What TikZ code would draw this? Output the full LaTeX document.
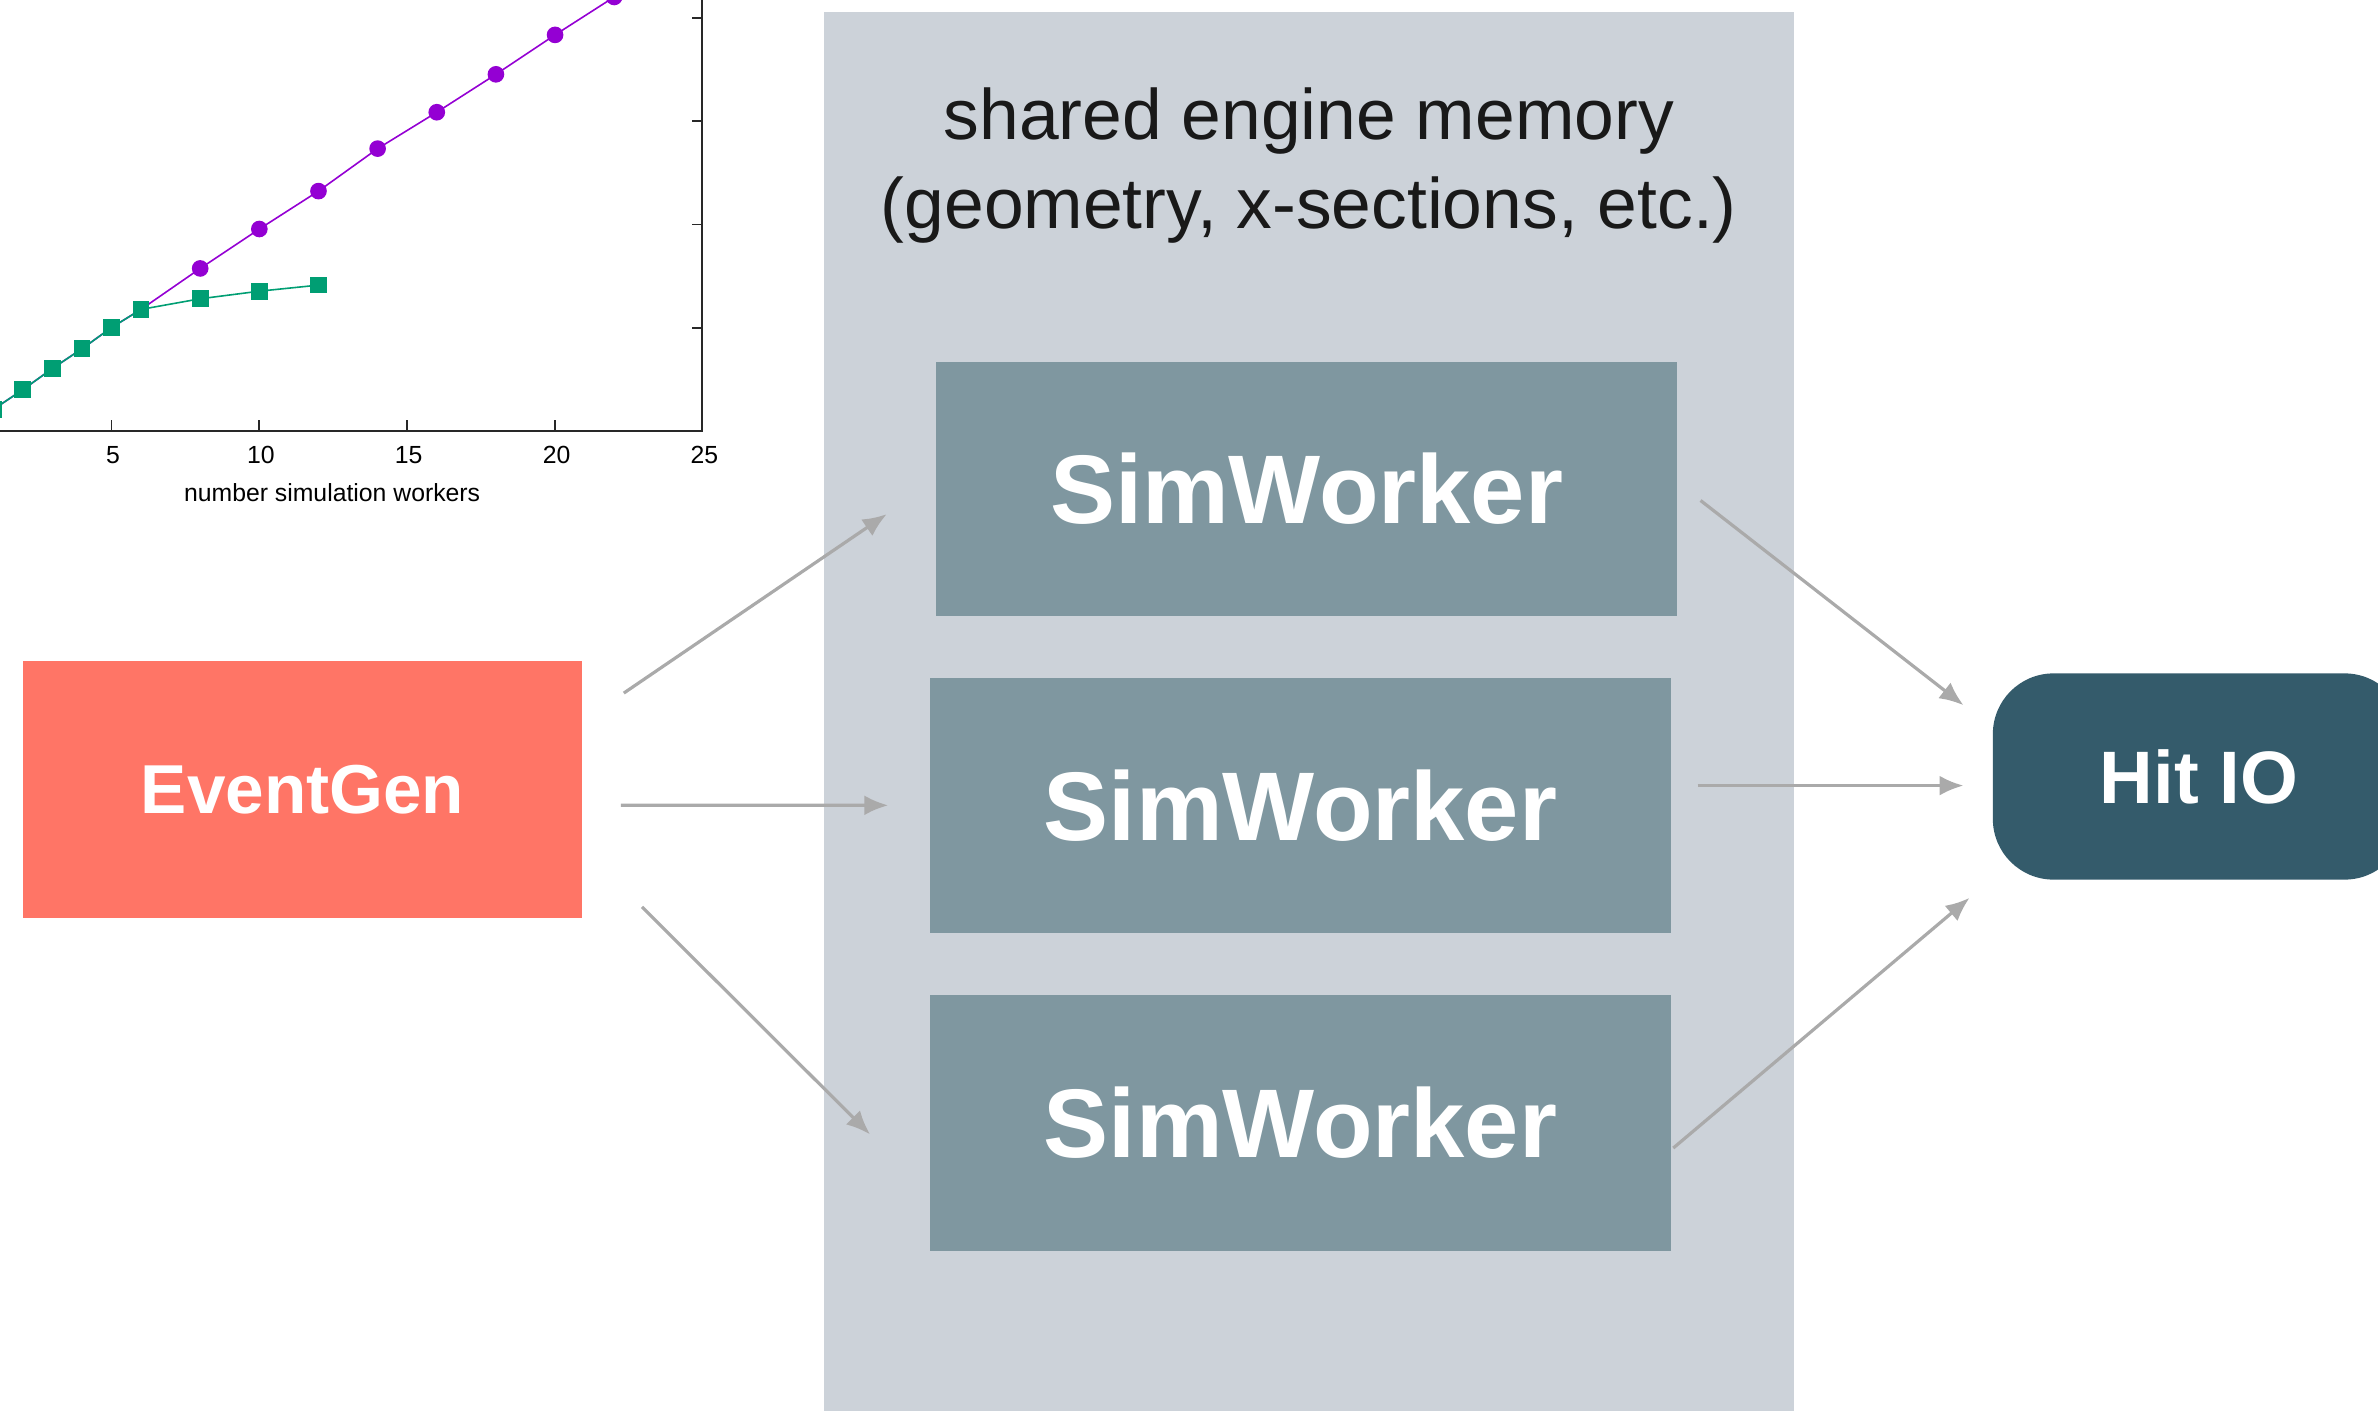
\documentclass[tikz,border=0pt]{standalone}
\usepackage{fontspec}
\setmainfont{Liberation Sans}
\usetikzlibrary{arrows.meta}
\definecolor{panelgray}{RGB}{204,210,217}
\definecolor{workerc}{RGB}{127,151,160}
\definecolor{eventc}{RGB}{255,117,102}
\definecolor{hitc}{RGB}{52,91,107}
\definecolor{arrowc}{RGB}{170,170,170}
\definecolor{plotpurple}{RGB}{148,0,211}
\definecolor{plotgreen}{RGB}{0,158,115}
\definecolor{axisc}{RGB}{40,40,40}
\tikzset{
  workerbox/.style={fill=workerc, text=white, inner sep=0pt, minimum width=9.78cm,
    font=\fontsize{36.6}{40}\selectfont\bfseries},
  flow/.style={draw=arrowc, line width=1.2pt, -{Latex[length=9pt,width=7.5pt]}},
  ticklab/.style={font=\fontsize{9.3}{11}\selectfont, text=black, inner sep=0pt},
}
\begin{document}
\begin{tikzpicture}[x=0.02cm,y=-0.02cm]
\useasboundingbox (0,0) rectangle (1568,930);
% shared memory panel
\fill[panelgray] (543,8) rectangle (1183,940);
\node[align=center, inner sep=0pt, text={rgb,255:red,25;green,25;blue,25},
  font=\fontsize{26.8}{33.5}\selectfont] (title) at (863,109)
  {shared engine memory\\(geometry, x-sections, etc.)};
% nodes
\node[workerbox, minimum height=3.34cm] (sw1) at (861.5,322.5) {SimWorker};
\node[workerbox, minimum height=3.36cm] (sw2) at (857.5,531) {SimWorker};
\node[workerbox, minimum height=3.38cm] (sw3) at (857.5,740.5) {SimWorker};
\node[fill=eventc, text=white, inner sep=0pt, minimum width=7.38cm, minimum height=3.38cm,
  font=\fontsize{26}{30}\selectfont\bfseries] (eg) at (199.5,520.5) {EventGen};
\node[fill=hitc, text=white, inner sep=0pt, minimum width=5.44cm, minimum height=2.72cm,
  rounded corners=0.8cm, font=\fontsize{27.9}{32}\selectfont\bfseries] (hit) at (1450,512) {Hit IO};
% connectors
\draw[flow] ([shift={(27,-63.5)}]eg.east) -- ([shift={(-32,16.5)}]sw1.west);
\draw[flow] ([shift={(25,10.5)}]eg.east) -- ([shift={(-27,0)}]sw2.west);
\draw[flow] ([shift={(39,77.5)}]eg.east) -- ([shift={(-39,7.5)}]sw3.west);
\draw[flow] ([shift={(15,7.5)}]sw1.east) -- ([shift={(-19,-47)}]hit.west);
\draw[flow] ([shift={(17,-13)}]sw2.east) -- ([shift={(-19,6)}]hit.west);
\draw[flow] ([shift={(1,16.5)}]sw3.east) -- ([shift={(-15,80)}]hit.west);
% plot
\begin{scope}
\clip (0,0) rectangle (480,340);
\draw[axisc, line width=0.8pt] (-10,284) -- (463,284) -- (463,-10);
\foreach \yy in {12,80,148,216} \draw[axisc, line width=0.7pt] (463,\yy) -- (456,\yy);
\foreach \n in {5,10,15,20} \draw[axisc, line width=0.7pt] ({-24+19.5*\n},284) -- ({-24+19.5*\n},277);
\draw[plotpurple, line width=0.6pt] plot coordinates {({-24+19.5*1},270) ({-24+19.5*2},257) ({-24+19.5*3},243) ({-24+19.5*4},230) ({-24+19.5*5},216) ({-24+19.5*6},204) ({-24+19.5*8},177) ({-24+19.5*10},151) ({-24+19.5*12},126) ({-24+19.5*14},98) ({-24+19.5*16},74) ({-24+19.5*18},49) ({-24+19.5*20},23) ({-24+19.5*22},-2) ({-24+19.5*24},-27)};
\foreach \n/\yy in {8/177,10/151,12/126,14/98,16/74,18/49,20/23,22/-2}
  \fill[plotpurple] ({-24+19.5*\n},\yy) circle[radius=0.11cm];
\draw[plotgreen, line width=0.6pt] plot coordinates {({-24+19.5*1},270) ({-24+19.5*2},257) ({-24+19.5*3},243) ({-24+19.5*4},230) ({-24+19.5*5},216) ({-24+19.5*6},204) ({-24+19.5*8},197) ({-24+19.5*10},192) ({-24+19.5*12},188)};
\foreach \n/\yy in {1/270,2/257,3/243,4/230,5/216,6/204,8/197,10/192,12/188}
  \fill[plotgreen] ({-24+19.5*\n-5.5},\yy-5.5) rectangle +(11,11);
\end{scope}
\foreach \n in {5,10,15,20,25}
  \node[ticklab] (tl\n) at ({-24+19.5*\n+1},300) {\n};
\node[font=\fontsize{9.3}{11}\selectfont, inner sep=0pt] (xlabel) at (219,325) {number simulation workers};
\end{tikzpicture}
\end{document}
